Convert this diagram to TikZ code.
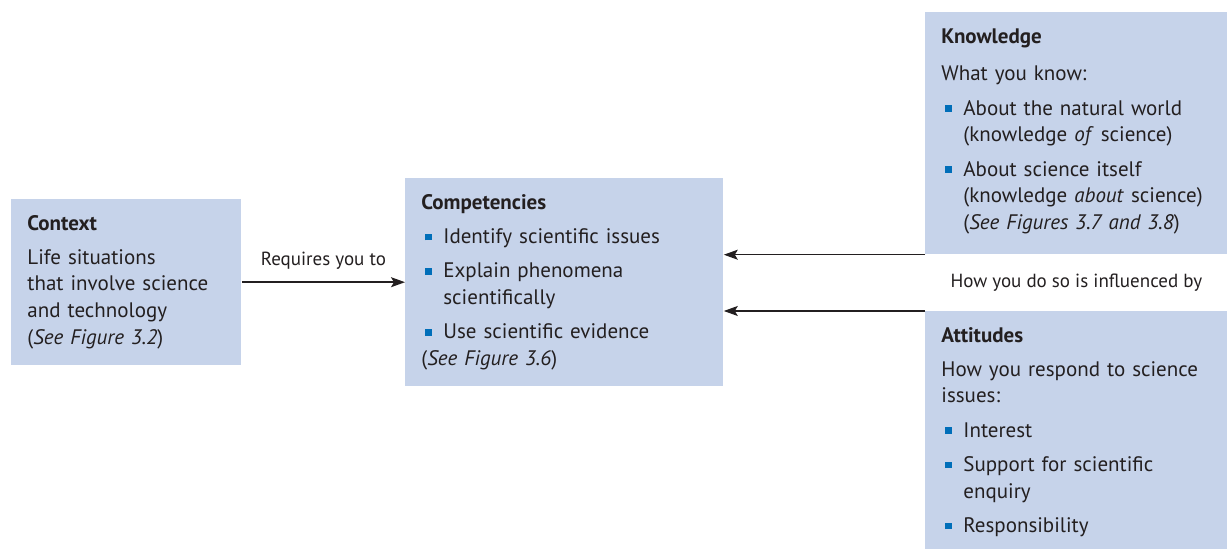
\documentclass[tikz,border=0pt]{standalone}
\usepackage{fontspec}
\setmainfont{PT Sans}
\usepackage{tikz}
\usetikzlibrary{arrows.meta,positioning}
\definecolor{PisaBoxColor}{RGB}{198,211,234}
\definecolor{PisaBulletColor}{RGB}{0,110,185}
\definecolor{PisaTextColor}{RGB}{35,31,32}
\newcommand{\boxhead}[1]{\noindent\textbf{#1}}
\newcommand{\bpara}[2][3.6pt]{\par\vspace{#1}\noindent #2}
\newcommand{\bitem}[1]{\par\vspace{3.8pt}\hangindent=11pt\hangafter=1\noindent%
   \makebox[11pt][l]{\hspace{2pt}\textcolor{PisaBulletColor}{\rule[1.7pt]{3.3pt}{3.3pt}}}#1}

\begin{document}
\begin{tikzpicture}[x=0.5pt,y=-0.5pt,box/.style={fill=PisaBoxColor,text=PisaTextColor,anchor=north west,inner xsep=8pt,inner ysep=8pt,text width=#1,align=left,font=\fontsize{10.5}{13.35}\selectfont},arr/.style={draw=PisaTextColor,line width=0.75pt,-{Stealth[length=7pt,width=5pt,inset=1.5pt]}},lbl/.style={text=PisaTextColor,font=\fontsize{9.5}{11}\selectfont}]
\useasboundingbox (0,0) rectangle (1227,549);
\node[box=99pt] (ctx) at (11,199) {\boxhead{Context}
   \bpara{Life situations\newline that involve science\newline and technology\newline (\textit{See Figure 3.2})}};
\node[box=143pt] (comp) at (405,178) {\boxhead{Competencies}
   \bitem{Identify scientific issues}
   \bitem{Explain phenomena\newline scientifically}
   \bitem{Use scientific evidence\newline (\textit{See Figure 3.6})}};
\node[box=135pt] (know) at (925,12) {\boxhead{Knowledge}
   \bpara[5.6pt]{What you know:}
   \bitem{About the natural world\newline (knowledge \textit{of} science)}
   \bitem{About science itself\newline (knowledge \textit{about} science)\newline (\textit{See Figures 3.7 and 3.8})}\par\vspace{2pt}};
\node[box=135pt] (att) at (925,311) {\boxhead{Attitudes}
   \bpara{How you respond to science\newline issues:}
   \bitem{Interest}
   \bitem{Support for scientific\newline enquiry}
   \bitem{Responsibility}};
\draw[arr] (ctx.east) -- (comp.west |- ctx.east) node[midway,above=2.6pt,lbl] (req) {Requires you to};
\foreach \src/\anc in {know/south west,att/north west} {
   \draw[arr] (\src.\anc) -- (comp.east |- \src.\anc);
}
\path (know.south) -- (att.north) node[midway,lbl] (infl) {How you do so is influenced by};
\end{tikzpicture}
\end{document}
